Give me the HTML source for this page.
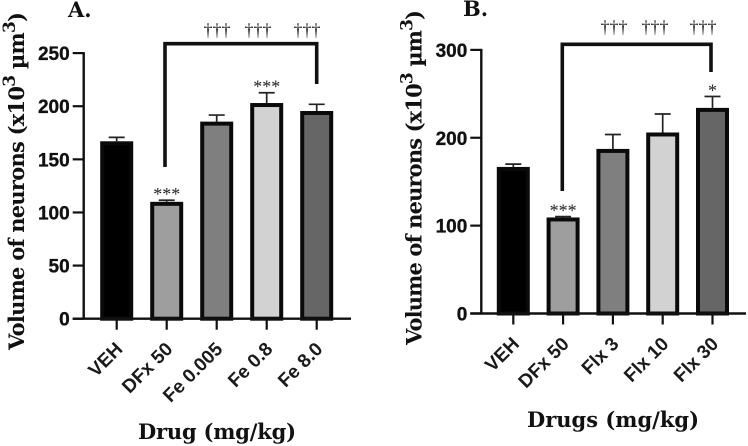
<!DOCTYPE html>
<html>
<head>
<meta charset="utf-8">
<style>
html,body{margin:0;padding:0;background:#fff;width:748px;height:446px;overflow:hidden}
svg{display:block;filter:blur(0.35px)}
.tick{font:bold 19px "Liberation Sans",sans-serif;fill:#111;stroke:#111;stroke-width:.35px}
.cat{font:bold 19px "Liberation Sans",sans-serif;fill:#1a1a1a}
.title{font:bold 21px "DejaVu Serif","Liberation Serif",serif;fill:#111}
.sup{font-size:17px}
.mark{font:18px "Liberation Serif",serif;fill:#222}
</style>
</head>
<body>
<svg id="chart" width="748" height="446" viewBox="0 0 748 446" xmlns="http://www.w3.org/2000/svg">
  <text class="title" x="68" y="17">A.</text>
  <text class="title" x="463" y="16">B.</text>
  <text class="title" transform="translate(24,350) rotate(-90)" textLength="338">Volume of neurons (x10<tspan class="sup" dy="-9">3</tspan><tspan dy="9"> µm</tspan><tspan class="sup" dy="-9">3</tspan><tspan dy="9">)</tspan></text>
  <text class="title" transform="translate(421.5,345) rotate(-90)" textLength="335">Volume of neurons (x10<tspan class="sup" dy="-9">3</tspan><tspan dy="9"> µm</tspan><tspan class="sup" dy="-9">3</tspan><tspan dy="9">)</tspan></text>
  <text class="title" x="138" y="439" textLength="158">Drug (mg/kg)</text>
  <text class="title" x="527" y="427" textLength="172">Drugs (mg/kg)</text>
  <path d="M165 167V43.7H316.7V84" fill="none" stroke="#111" stroke-width="3.6"/>
  <path d="M562.3 191V44.3H711V72" fill="none" stroke="#111" stroke-width="3.6"/>
</svg>
<script>
const catsA = ["VEH", "DFx 50", "Fe 0.005", "Fe 0.8", "Fe 8.0"];
const valsA = [167, 110, 185.5, 203, 195.5];
const errsA = [3.7, 1.5, 6.2, 9.7, 6.3];
const ticksA = [0, 50, 100, 150, 200, 250];
const starsA = ["", "***", "", "***", ""];
const daggersA = ["†††", "†††", "†††"];
const catsB = ["VEH", "DFx 50", "Flx 3", "Flx 10", "Flx 30"];
const valsB = [166.8, 109.3, 187.3, 206, 234];
const errsB = [3.2, 1, 16.4, 21, 13];
const ticksB = [0, 100, 200, 300];
const starsB = ["", "***", "", "", "*"];
const daggersB = ["†††", "†††", "†††"];
const fills = ["#000000", "#9e9e9e", "#7f7f7f", "#d2d2d2", "#666666"];

const svg = document.getElementById('chart');
const NS = 'http://www.w3.org/2000/svg';
function mk(tag, attrs, txt) {
  const e = document.createElementNS(NS, tag);
  for (const k in attrs) e.setAttribute(k, attrs[k]);
  if (txt !== undefined) e.textContent = txt;
  svg.appendChild(e);
  return e;
}
function drawPanel(p, cats, vals, errs, ticks, stars, daggers) {
  const y = v => p.y0 - v * p.scale;
  const x = i => p.x0 + i * p.step;
  const top = y(ticks[ticks.length - 1]);
  const yAxis = mk('line', {x1: p.axisX, x2: p.axisX, y1: top - 1, y2: p.y0, stroke: '#111', 'stroke-width': 2.4});
  
  
  ticks.forEach(t => {
    const tk = mk('line', {x1: p.axisX - 11, x2: p.axisX, y1: y(t), y2: y(t), stroke: '#111', 'stroke-width': 2.2});
    
    
    const lb = mk('text', {class: 'tick', x: p.axisX - 14, y: y(t) + 7, 'text-anchor': 'end'}, t);
    
    
  });
  cats.forEach((c, i) => {
    const cx = x(i);
    const vTop = y(vals[i]);
    const eTop = y(vals[i] + errs[i]);
    const stem = mk('line', {x1: cx, x2: cx, y1: vTop, y2: eTop, stroke: '#222', 'stroke-width': 1.7});
    
    
    const cap = mk('line', {x1: cx - 8, x2: cx + 8, y1: eTop, y2: eTop, stroke: '#222', 'stroke-width': 1.7});
    
    
    const bar = mk('rect', {x: cx - 14.5, y: vTop + 2, width: 29, height: p.y0 - vTop - 2, fill: fills[i], stroke: '#0a0a0a', 'stroke-width': 4});
    
    
    const tk = mk('line', {x1: cx, x2: cx, y1: p.y0, y2: p.y0 + 11, stroke: '#111', 'stroke-width': 2.2});
    
    
    const ax = cx + 7, ay = p.y0 + 31.5;
    const lb = mk('text', {class: 'cat', x: ax, y: ay, 'text-anchor': 'end', transform: 'rotate(-45 ' + ax + ' ' + ay + ')'}, c);
    
    
    if (stars[i]) {
      const st = mk('text', {class: 'mark', x: cx, y: eTop, 'text-anchor': 'middle'}, stars[i]);
      
      
    }
  });
  const xAxis = mk('line', {x1: p.axisX - 11, x2: p.axisEnd, y1: p.y0, y2: p.y0, stroke: '#111', 'stroke-width': 2.4});
  
  
  daggers.forEach((d, i) => {
    const dg = mk('text', {class: 'mark', x: p.daggerX[i], y: p.daggerY, 'text-anchor': 'middle'}, d);
    
    
  });
}
drawPanel({id: 'panel-a', y0: 318.7, scale: 1.0624, x0: 116.7, step: 50, axisX: 83.7, axisEnd: 351, daggerX: [217, 258, 307], daggerY: 36}, catsA, valsA, errsA, ticksA, starsA, daggersA);
drawPanel({id: 'panel-b', y0: 313.5, scale: 0.8787, x0: 513.3, step: 49.8, axisX: 481.3, axisEnd: 746, daggerX: [614, 655, 703], daggerY: 33}, catsB, valsB, errsB, ticksB, starsB, daggersB);
</script>
</body>
</html>
